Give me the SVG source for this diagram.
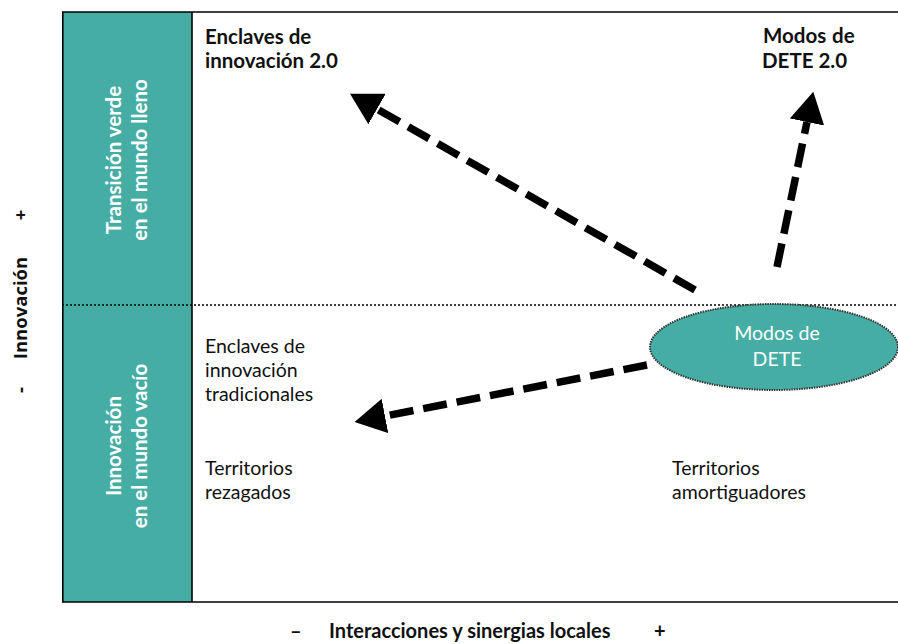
<svg xmlns="http://www.w3.org/2000/svg" width="898" height="644" viewBox="0 0 898 644">
<defs>
<style>
.t{font-family:Lato,"Open Sans","Liberation Sans",sans-serif;font-size:19.5px;fill:#111}
.b{font-weight:bold;font-size:20.5px}
.w{fill:#fff}
.ax{font-family:"Open Sans",Lato,"Liberation Sans",sans-serif;font-weight:bold;font-size:18.5px;fill:#111}
.frame{fill:none;stroke:#000;stroke-width:1.6}
.dash{fill:none;stroke:#000;stroke-width:7.5;stroke-dasharray:24 10}
</style>
<marker id="ah" markerUnits="userSpaceOnUse" markerWidth="31" markerHeight="35" viewBox="0 0 31 35" refX="0" refY="17.5" orient="auto">
<path d="M0,0 L31,17.5 L0,35 Z" fill="#000"/>
</marker>
</defs>
<rect width="898" height="644" fill="#fff"/>
<g id="frame">
<rect x="62" y="12" width="130" height="590" fill="#45ada4"/>
<line class="frame" x1="62" y1="12" x2="898" y2="12"/>
<line class="frame" x1="62" y1="602" x2="898" y2="602"/>
<line class="frame" x1="62.8" y1="12" x2="62.8" y2="602"/>
<line class="frame" x1="192" y1="12" x2="192" y2="602"/>
<line x1="62" y1="305" x2="898" y2="305" stroke="#000" stroke-width="1.5" stroke-dasharray="2 2"/>
</g>
<g id="col-top">
<text class="t b w" text-anchor="middle" transform="translate(121,160) rotate(-90)">Transición verde</text>
<text class="t b w" text-anchor="middle" transform="translate(147,160) rotate(-90)">en el mundo lleno</text>
</g>
<g id="col-bottom">
<text class="t b w" text-anchor="middle" transform="translate(121,446) rotate(-90)">Innovación</text>
<text class="t b w" text-anchor="middle" transform="translate(147,446) rotate(-90)">en el mundo vacío</text>
</g>
<g id="y-axis">
<text class="ax" text-anchor="middle" transform="translate(27,215) rotate(-90)">+</text>
<text class="ax" text-anchor="middle" transform="translate(27,308) rotate(-90)">Innovación</text>
<text class="ax" text-anchor="middle" transform="translate(27,390) rotate(-90)">-</text>
</g>
<g id="x-axis">
<text class="t b" x="290" y="638" style="font-size:20px">–</text>
<text class="t b" x="329" y="638" style="font-size:20px">Interacciones y sinergias locales</text>
<text class="t b" x="654" y="638" style="font-size:20px">+</text>
</g>
<g id="enclaves-20">
<text class="t b" x="205" y="44">Enclaves de</text>
<text class="t b" x="205" y="68">innovación 2.0</text>
</g>
<g id="modos-20">
<text class="t b" x="763" y="43">Modos<tspan x="832">de</tspan></text>
<text class="t b" x="762" y="68">DETE 2.0</text>
</g>
<g id="enclaves-trad">
<text class="t" x="205" y="353">Enclaves de</text>
<text class="t" x="205" y="377">innovación</text>
<text class="t" x="205" y="401">tradicionales</text>
</g>
<g id="rezagados">
<text class="t" x="205" y="475">Territorios</text>
<text class="t" x="205" y="499">rezagados</text>
</g>
<g id="amortiguadores">
<text class="t" x="672" y="475">Territorios</text>
<text class="t" x="672" y="499">amortiguadores</text>
</g>
<g id="connectors">
<line class="dash" x1="695" y1="290" x2="377" y2="109" marker-end="url(#ah)"/>
<line class="dash" x1="777" y1="267" x2="807" y2="122" marker-end="url(#ah)"/>
<line class="dash" x1="647" y1="365" x2="385" y2="416" marker-end="url(#ah)"/>
</g>
<g id="modos-dete">
<ellipse cx="774" cy="347" rx="124" ry="43" fill="#45ada4" stroke="#333" stroke-width="2" stroke-dasharray="1.5 1"/>
<text class="t w" text-anchor="middle" x="777" y="340">Modos de</text>
<text class="t w" text-anchor="middle" x="777" y="366">DETE</text>
</g>
</svg>
